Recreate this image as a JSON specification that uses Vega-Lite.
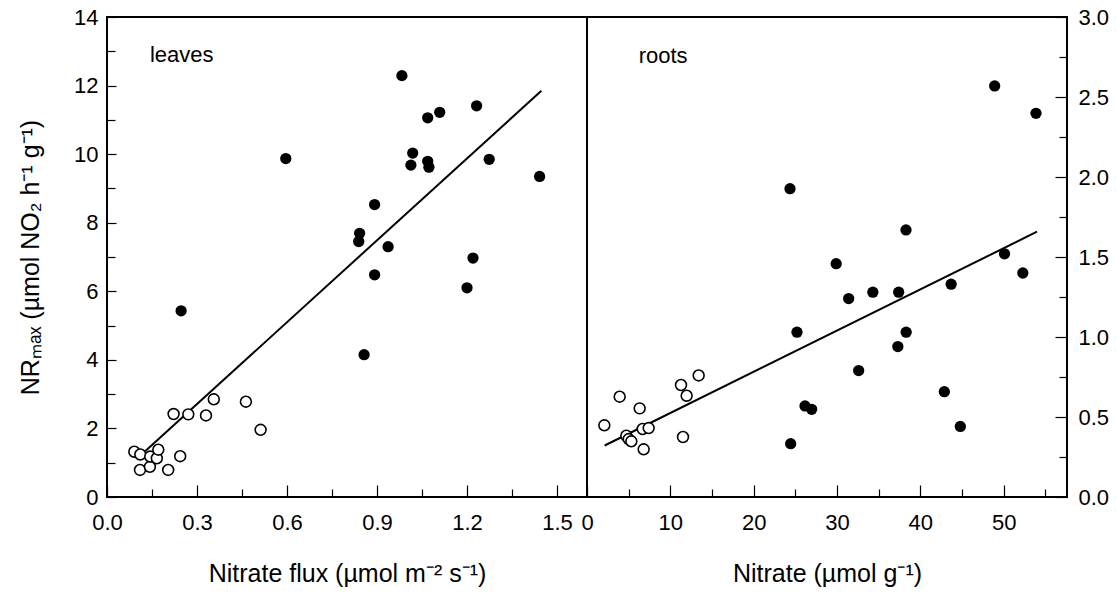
{
  "$schema": "https://vega.github.io/schema/vega-lite/v6.json",
  "padding": {"left": 17, "top": 5, "right": 5, "bottom": 5},
  "spacing": 0,
  "bounds": "flush",
  "config": {
    "font": "Liberation Sans",
    "view": {"stroke": "black", "strokeWidth": 2},
    "concat": {"spacing": 0},
    "axis": {
      "labelFont": "Liberation Sans", "titleFont": "Liberation Sans",
      "labelColor": "black", "titleColor": "black", "tickColor": "black",
      "labelFontSize": 22, "titleFontSize": 25, "titleFontWeight": "normal",
      "grid": false, "domain": false, "tickWidth": 1.2,
      "labelFlush": false, "labelOverlap": false, "labelBound": false
    }
  },
  "datasets": {
    "pts": [
      {"panel": "leaves", "group": "open", "x": 0.091, "y": 1.32},
      {"panel": "leaves", "group": "open", "x": 0.111, "y": 1.24},
      {"panel": "leaves", "group": "open", "x": 0.110, "y": 0.79},
      {"panel": "leaves", "group": "open", "x": 0.143, "y": 0.88},
      {"panel": "leaves", "group": "open", "x": 0.144, "y": 1.18},
      {"panel": "leaves", "group": "open", "x": 0.166, "y": 1.13},
      {"panel": "leaves", "group": "open", "x": 0.171, "y": 1.38},
      {"panel": "leaves", "group": "open", "x": 0.204, "y": 0.79},
      {"panel": "leaves", "group": "open", "x": 0.244, "y": 1.19},
      {"panel": "leaves", "group": "open", "x": 0.222, "y": 2.42},
      {"panel": "leaves", "group": "open", "x": 0.271, "y": 2.41},
      {"panel": "leaves", "group": "open", "x": 0.330, "y": 2.38},
      {"panel": "leaves", "group": "open", "x": 0.356, "y": 2.85},
      {"panel": "leaves", "group": "open", "x": 0.463, "y": 2.78},
      {"panel": "leaves", "group": "open", "x": 0.512, "y": 1.96},
      {"panel": "leaves", "group": "filled", "x": 0.983, "y": 12.29},
      {"panel": "leaves", "group": "filled", "x": 1.069, "y": 11.06},
      {"panel": "leaves", "group": "filled", "x": 1.109, "y": 11.22},
      {"panel": "leaves", "group": "filled", "x": 1.232, "y": 11.41},
      {"panel": "leaves", "group": "filled", "x": 0.596, "y": 9.87},
      {"panel": "leaves", "group": "filled", "x": 1.019, "y": 10.03},
      {"panel": "leaves", "group": "filled", "x": 1.013, "y": 9.68},
      {"panel": "leaves", "group": "filled", "x": 1.069, "y": 9.79},
      {"panel": "leaves", "group": "filled", "x": 1.073, "y": 9.62},
      {"panel": "leaves", "group": "filled", "x": 1.274, "y": 9.85},
      {"panel": "leaves", "group": "filled", "x": 1.442, "y": 9.35},
      {"panel": "leaves", "group": "filled", "x": 0.892, "y": 8.53},
      {"panel": "leaves", "group": "filled", "x": 0.842, "y": 7.69},
      {"panel": "leaves", "group": "filled", "x": 0.839, "y": 7.45},
      {"panel": "leaves", "group": "filled", "x": 0.937, "y": 7.30},
      {"panel": "leaves", "group": "filled", "x": 0.892, "y": 6.48},
      {"panel": "leaves", "group": "filled", "x": 1.220, "y": 6.97},
      {"panel": "leaves", "group": "filled", "x": 1.200, "y": 6.10},
      {"panel": "leaves", "group": "filled", "x": 0.857, "y": 4.15},
      {"panel": "leaves", "group": "filled", "x": 0.247, "y": 5.43},
      {"panel": "roots", "group": "open", "x": 2.08, "y": 0.448},
      {"panel": "roots", "group": "open", "x": 3.92, "y": 0.627},
      {"panel": "roots", "group": "open", "x": 6.32, "y": 0.554},
      {"panel": "roots", "group": "open", "x": 4.72, "y": 0.383},
      {"panel": "roots", "group": "open", "x": 5.0, "y": 0.362},
      {"panel": "roots", "group": "open", "x": 5.32, "y": 0.348},
      {"panel": "roots", "group": "open", "x": 6.8, "y": 0.298},
      {"panel": "roots", "group": "open", "x": 6.68, "y": 0.425},
      {"panel": "roots", "group": "open", "x": 7.4, "y": 0.431},
      {"panel": "roots", "group": "open", "x": 11.52, "y": 0.375},
      {"panel": "roots", "group": "open", "x": 11.28, "y": 0.70},
      {"panel": "roots", "group": "open", "x": 11.96, "y": 0.633},
      {"panel": "roots", "group": "open", "x": 13.4, "y": 0.76},
      {"panel": "roots", "group": "filled", "x": 24.44, "y": 0.333},
      {"panel": "roots", "group": "filled", "x": 26.16, "y": 0.569},
      {"panel": "roots", "group": "filled", "x": 26.96, "y": 0.548},
      {"panel": "roots", "group": "filled", "x": 42.88, "y": 0.658},
      {"panel": "roots", "group": "filled", "x": 44.8, "y": 0.441},
      {"panel": "roots", "group": "filled", "x": 48.92, "y": 2.569},
      {"panel": "roots", "group": "filled", "x": 53.88, "y": 2.398},
      {"panel": "roots", "group": "filled", "x": 24.36, "y": 1.927},
      {"panel": "roots", "group": "filled", "x": 38.28, "y": 1.669},
      {"panel": "roots", "group": "filled", "x": 29.9, "y": 1.458},
      {"panel": "roots", "group": "filled", "x": 31.4, "y": 1.24},
      {"panel": "roots", "group": "filled", "x": 34.3, "y": 1.28},
      {"panel": "roots", "group": "filled", "x": 37.4, "y": 1.28},
      {"panel": "roots", "group": "filled", "x": 38.3, "y": 1.03},
      {"panel": "roots", "group": "filled", "x": 37.3, "y": 0.94},
      {"panel": "roots", "group": "filled", "x": 25.2, "y": 1.03},
      {"panel": "roots", "group": "filled", "x": 32.6, "y": 0.79},
      {"panel": "roots", "group": "filled", "x": 43.7, "y": 1.33},
      {"panel": "roots", "group": "filled", "x": 50.1, "y": 1.52},
      {"panel": "roots", "group": "filled", "x": 52.3, "y": 1.40}
    ],
    "fit": [
      {"panel": "leaves", "x": 0.128, "y": 1.34},
      {"panel": "leaves", "x": 1.448, "y": 11.85},
      {"panel": "roots", "x": 2.12, "y": 0.322},
      {"panel": "roots", "x": 54.0, "y": 1.658}
    ],
    "labels": [
      {"panel": "leaves", "label": "leaves", "x": 0.143, "y": 12.68},
      {"panel": "roots", "label": "roots", "x": 6.2, "y": 2.714}
    ]
  },
  "hconcat": [
    {
      "width": 480, "height": 480,
      "resolve": {"axis": {"x": "independent", "y": "independent"}},
      "layer": [
        {
          "data": {"name": "fit"},
          "transform": [{"filter": "datum.panel === 'leaves'"}],
          "mark": {"type": "line", "color": "black", "strokeWidth": 2},
          "encoding": {
            "x": {"field": "x", "type": "quantitative", "scale": {"domain": [0, 1.6], "nice": false, "zero": false}, "axis": null},
            "y": {"field": "y", "type": "quantitative", "scale": {"domain": [0, 14], "nice": false}, "axis": null}
          }
        },
        {
          "data": {"name": "pts"},
          "transform": [{"filter": "datum.panel === 'leaves' && datum.group === 'filled'"}],
          "mark": {"type": "circle", "fill": "black", "opacity": 1, "size": 127},
          "encoding": {
            "x": {"field": "x", "type": "quantitative", "axis": {"orient": "bottom", "values": [0.15, 0.45, 0.75, 1.05, 1.35], "labels": false, "tickSize": -8, "title": null}},
            "y": {"field": "y", "type": "quantitative", "axis": {"orient": "left", "values": [1, 3, 5, 7, 9, 11, 13], "labels": false, "tickSize": -8, "title": null}}
          }
        },
        {
          "data": {"name": "pts"},
          "transform": [{"filter": "datum.panel === 'leaves' && datum.group === 'open'"}],
          "mark": {"type": "circle", "fill": "white", "stroke": "black", "strokeWidth": 1.6, "opacity": 1, "size": 118},
          "encoding": {
            "x": {"field": "x", "type": "quantitative", "axis": {"orient": "bottom", "values": [0, 0.3, 0.6, 0.9, 1.2, 1.5], "format": ".1f", "tickSize": -12, "labelPadding": 27, "title": "Nitrate flux (µmol m⁻² s⁻¹)", "titleY": 84, "titleBaseline": "alphabetic"}},
            "y": {"field": "y", "type": "quantitative", "axis": {"orient": "left", "values": [0, 2, 4, 6, 8, 10, 12, 14], "tickSize": -9, "labelPadding": 18, "title": "NRₘₐₓ (µmol NO₂ h⁻¹ g⁻¹)", "titleX": -77, "titleY": 240, "titleAngle": -90, "titleBaseline": "middle", "titleAlign": "center"}}
          }
        },
        {
          "data": {"name": "labels"},
          "transform": [{"filter": "datum.panel === 'leaves'"}],
          "mark": {"type": "text", "align": "left", "baseline": "alphabetic", "fontSize": 22, "font": "Liberation Sans", "color": "black"},
          "encoding": {
            "x": {"field": "x", "type": "quantitative", "axis": null},
            "y": {"field": "y", "type": "quantitative", "axis": null},
            "text": {"field": "label"}
          }
        }
      ]
    },
    {
      "width": 480, "height": 480,
      "resolve": {"axis": {"x": "independent", "y": "independent"}},
      "layer": [
        {
          "data": {"name": "fit"},
          "transform": [{"filter": "datum.panel === 'roots'"}],
          "mark": {"type": "line", "color": "black", "strokeWidth": 2},
          "encoding": {
            "x": {"field": "x", "type": "quantitative", "scale": {"domain": [0, 57.6], "nice": false, "zero": false}, "axis": null},
            "y": {"field": "y", "type": "quantitative", "scale": {"domain": [0, 3], "nice": false}, "axis": null}
          }
        },
        {
          "data": {"name": "pts"},
          "transform": [{"filter": "datum.panel === 'roots' && datum.group === 'filled'"}],
          "mark": {"type": "circle", "fill": "black", "opacity": 1, "size": 127},
          "encoding": {
            "x": {"field": "x", "type": "quantitative", "axis": {"orient": "bottom", "values": [5, 15, 25, 35, 45, 55], "labels": false, "tickSize": -8, "title": null}},
            "y": {"field": "y", "type": "quantitative", "axis": {"orient": "right", "values": [0.25, 0.75, 1.25, 1.75, 2.25, 2.75], "labels": false, "tickSize": -8, "title": null}}
          }
        },
        {
          "data": {"name": "pts"},
          "transform": [{"filter": "datum.panel === 'roots' && datum.group === 'open'"}],
          "mark": {"type": "circle", "fill": "white", "stroke": "black", "strokeWidth": 1.6, "opacity": 1, "size": 118},
          "encoding": {
            "x": {"field": "x", "type": "quantitative", "axis": {"orient": "bottom", "values": [0, 10, 20, 30, 40, 50], "tickSize": -12, "labelPadding": 27, "title": "Nitrate (µmol g⁻¹)", "titleY": 84, "titleBaseline": "alphabetic"}},
            "y": {"field": "y", "type": "quantitative", "axis": {"orient": "right", "values": [0, 0.5, 1, 1.5, 2, 2.5, 3], "format": ".1f", "tickSize": -12, "labelPadding": 23, "title": null}}
          }
        },
        {
          "data": {"name": "labels"},
          "transform": [{"filter": "datum.panel === 'roots'"}],
          "mark": {"type": "text", "align": "left", "baseline": "alphabetic", "fontSize": 22, "font": "Liberation Sans", "color": "black"},
          "encoding": {
            "x": {"field": "x", "type": "quantitative", "axis": null},
            "y": {"field": "y", "type": "quantitative", "axis": null},
            "text": {"field": "label"}
          }
        }
      ]
    }
  ]
}
